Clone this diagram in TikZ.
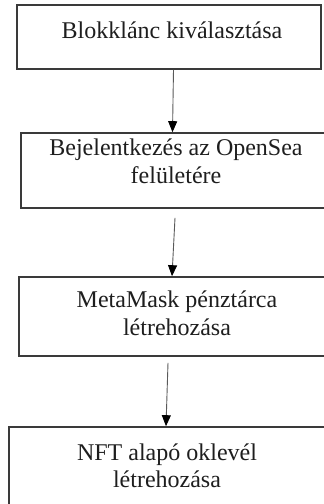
\documentclass[tikz,border=0pt]{standalone}
\usepackage{fontspec}
\setmainfont{Liberation Serif}
\usetikzlibrary{arrows.meta}
\definecolor{boxline}{HTML}{3A3A3A}
\definecolor{arrline}{HTML}{5A5A5A}
\definecolor{txtcol}{HTML}{1E1E1E}
\tikzset{
  stepbox/.style={draw=boxline, line width=1.6pt, inner sep=0pt, fill=none},
  steptext/.style={text=txtcol, inner sep=0pt, align=center, font=\fontsize{24}{28}\selectfont, anchor=base},
  arr/.style={draw=arrline, line width=0.9pt, -{Triangle[width=9pt,length=11pt,fill=black,color=black]}}
}
\begin{document}
\begin{tikzpicture}[x=1pt,y=-1pt]
\useasboundingbox (0,0) rectangle (324,504);
\clip (0,0) rectangle (324,504);
\fill[white] (0,0) rectangle (324,504);
% boxes
\node[stepbox, minimum width=304pt, minimum height=64pt] (b1) at (169,37) {};
\node[stepbox, minimum width=324pt, minimum height=75pt] (b2) at (183,170.5) {};
\node[stepbox, minimum width=326pt, minimum height=79pt] (b3) at (182,316.5) {};
\node[stepbox, minimum width=336pt, minimum height=77.5pt] (b4) at (177,465.75) {};
% texts
\node[steptext] (t1) at (172,38) {Blokklánc kiválasztása};
\node[steptext] (t2a) at (176,155) {Bejelentkezés az OpenSea};
\node[steptext] (t2b) at (176,183) {felületére};
\node[steptext] (t3a) at (177,307) {MetaMask pénztárca};
\node[steptext] (t3b) at (177,335) {létrehozása};
\node[steptext] (t4a) at (167,460) {NFT alapó oklevél};
\node[steptext] (t4b) at (167,487) {létrehozása};
% arrows
\draw[arr] ([xshift=4.5pt]b1.south) -- ([xshift=-10.5pt]b2.north);
\draw[arr] ([xshift=-8pt,yshift=-9pt]b2.south) -- ([xshift=-10pt]b3.north);
\draw[arr] ([xshift=-14pt,yshift=-6pt]b3.south) -- ([xshift=-11pt]b4.north);
\end{tikzpicture}
\end{document}
